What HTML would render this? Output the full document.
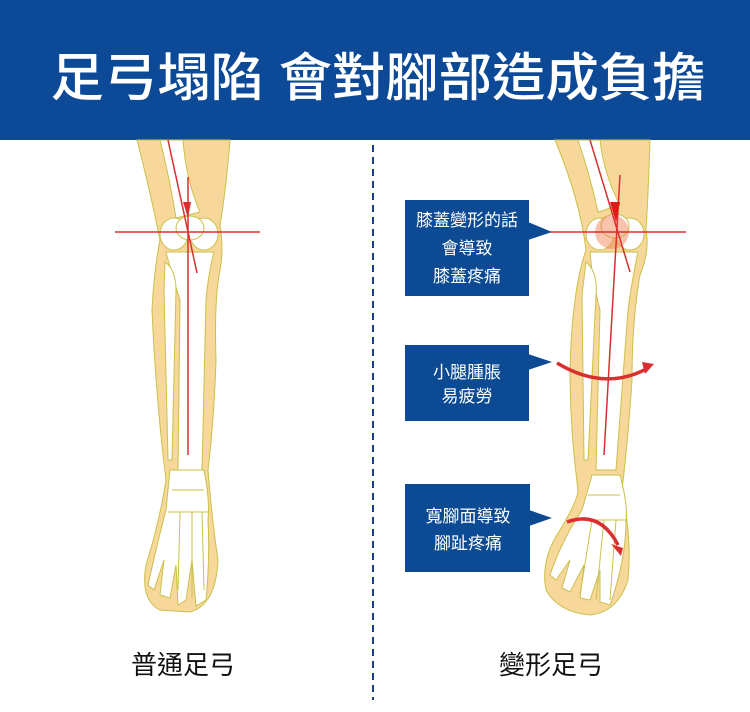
<!DOCTYPE html>
<html><head><meta charset="utf-8"><style>
body{margin:0;background:#fff}
svg{display:block}
text{font-family:"Liberation Sans","Noto Sans CJK TC",sans-serif}
</style></head><body>
<svg width="750" height="712" viewBox="0 0 750 712" xmlns="http://www.w3.org/2000/svg">
<rect x="0" y="0" width="750" height="140" fill="#0c4a98"/>
<text x="378" y="96" font-size="52" fill="#fff" text-anchor="middle" font-weight="500" textLength="655" lengthAdjust="spacingAndGlyphs">足弓塌陷 會對腳部造成負擔</text>
<line x1="373" y1="145" x2="373" y2="700" stroke="#1a3f7a" stroke-width="2" stroke-dasharray="7,5"/>

<!-- left leg -->
<g stroke="#c9c14a" stroke-width="1">
<path d="M137 140 L230 140 Q226 190 220 225 Q224 250 220 270 Q214 300 216 360 Q214 420 208 470 Q212 520 218 560 Q216 605 190 612 L160 610 Q140 600 146 565 Q160 520 166 480 Q156 400 152 310 Q154 270 160 240 Q150 190 137 140Z" fill="#f7d89a"/>
<path d="M160 140 L183 140 Q186 180 200 212 L176 218 Q170 180 160 140Z" fill="#fff"/>
<ellipse cx="174" cy="234" rx="14" ry="16" fill="#fff"/>
<ellipse cx="204" cy="234" rx="14" ry="16" fill="#fff"/>
<ellipse cx="190" cy="228" rx="14" ry="12" fill="#fff"/>
<path d="M166 252 L214 252 Q208 275 206 300 L202 470 L178 470 L180 300 Q172 275 166 252Z" fill="#fff"/>
<path d="M165 262 Q176 270 176 290 L172 460 L168 460 L164 290Z" fill="#fff"/>
<path d="M170 470 L204 470 Q210 500 208 520 Q210 560 206 600 L196 606 L192 560 L186 600 L178 605 L176 565 L170 598 L160 595 L164 560 L154 590 L148 585 Q158 540 166 510Z" fill="#fff"/>
<path d="M172 490 L204 490 M168 512 L208 512 M180 512 L178 590 M192 512 L192 598 M202 512 L204 590" fill="none"/>
</g>
<line x1="115" y1="232" x2="260" y2="232" stroke="#d9302f" stroke-width="1.5"/>
<line x1="168" y1="140" x2="197" y2="273" stroke="#d9302f" stroke-width="1.5"/>
<line x1="188" y1="177" x2="188" y2="455" stroke="#d9302f" stroke-width="1.5"/>
<polygon points="183,202 191,202 188,218" fill="#d9302f"/>

<!-- right leg -->
<g stroke="#c9c14a" stroke-width="1">
<path d="M555 140 L650 140 Q648 200 646 230 Q650 250 640 275 Q632 320 632 380 Q628 440 622 490 Q632 540 628 580 Q618 612 590 615 Q558 612 546 590 Q540 560 560 530 Q578 500 578 490 Q570 430 570 370 Q572 290 586 250 Q580 200 555 140Z" fill="#f7d89a"/>
<path d="M578 140 L600 140 Q604 175 620 205 L598 212 Q590 175 578 140Z" fill="#fff"/>
<ellipse cx="600" cy="234" rx="14" ry="16" fill="#fff"/>
<ellipse cx="630" cy="234" rx="14" ry="16" fill="#fff"/>
<ellipse cx="615" cy="226" rx="14" ry="12" fill="#fff"/>
<path d="M590 252 L638 252 Q632 280 628 310 L616 470 L596 470 L600 310 Q592 280 590 252Z" fill="#fff"/>
<path d="M586 262 Q598 272 596 295 L588 460 L584 460 L582 295Z" fill="#fff"/>
<path d="M592 475 L620 475 Q628 505 626 520 Q626 560 610 605 L600 602 L600 570 L590 600 L580 598 L584 565 L570 592 L562 588 L570 560 L556 580 L550 575 Q562 540 582 510Z" fill="#fff"/>
<path d="M588 495 L620 495 M578 520 L626 520 M604 520 L596 600 M592 520 L580 595 M616 520 L610 600" fill="none"/>
</g>
<circle cx="612" cy="232" r="17" fill="#f27a4a" opacity="0.45"/>
<line x1="550" y1="232" x2="686" y2="232" stroke="#d9302f" stroke-width="1.5"/>
<line x1="590" y1="140" x2="630" y2="272" stroke="#d9302f" stroke-width="1.5"/>
<line x1="620" y1="175" x2="604" y2="455" stroke="#d9302f" stroke-width="1.5"/>
<polygon points="610,202 620,202 616,222" fill="#e01818"/>
<path d="M557 363 Q605 392 648 368" fill="none" stroke="#d9302f" stroke-width="3.5"/>
<polygon points="642,362 654,364 645,374" fill="#d9302f"/>
<path d="M567 522 Q600 510 618 545" fill="none" stroke="#d9302f" stroke-width="3.5"/>
<polygon points="611,544 623,548 621,556" fill="#d9302f"/>

<!-- boxes -->
<g fill="#0c4a93">
<rect x="405" y="200" width="124" height="96"/>
<polygon points="528,222 552,232 528,240"/>
<rect x="405" y="345" width="124" height="76"/>
<polygon points="528,354 552,362 528,370"/>
<rect x="405" y="484" width="125" height="88"/>
<polygon points="529,510 552,518 529,526"/>
</g>
<g fill="#fff" font-size="17" text-anchor="middle">
<text x="467" y="226">膝蓋變形的話</text>
<text x="467" y="254">會導致</text>
<text x="467" y="282">膝蓋疼痛</text>
<text x="467" y="378">小腿腫脹</text>
<text x="467" y="402">易疲勞</text>
<text x="468" y="522">寬腳面導致</text>
<text x="468" y="549">腳趾疼痛</text>
</g>
<g fill="#111" font-size="26" text-anchor="middle">
<text x="183" y="674">普通足弓</text>
<text x="551" y="674">變形足弓</text>
</g>
</svg>
</body></html>
